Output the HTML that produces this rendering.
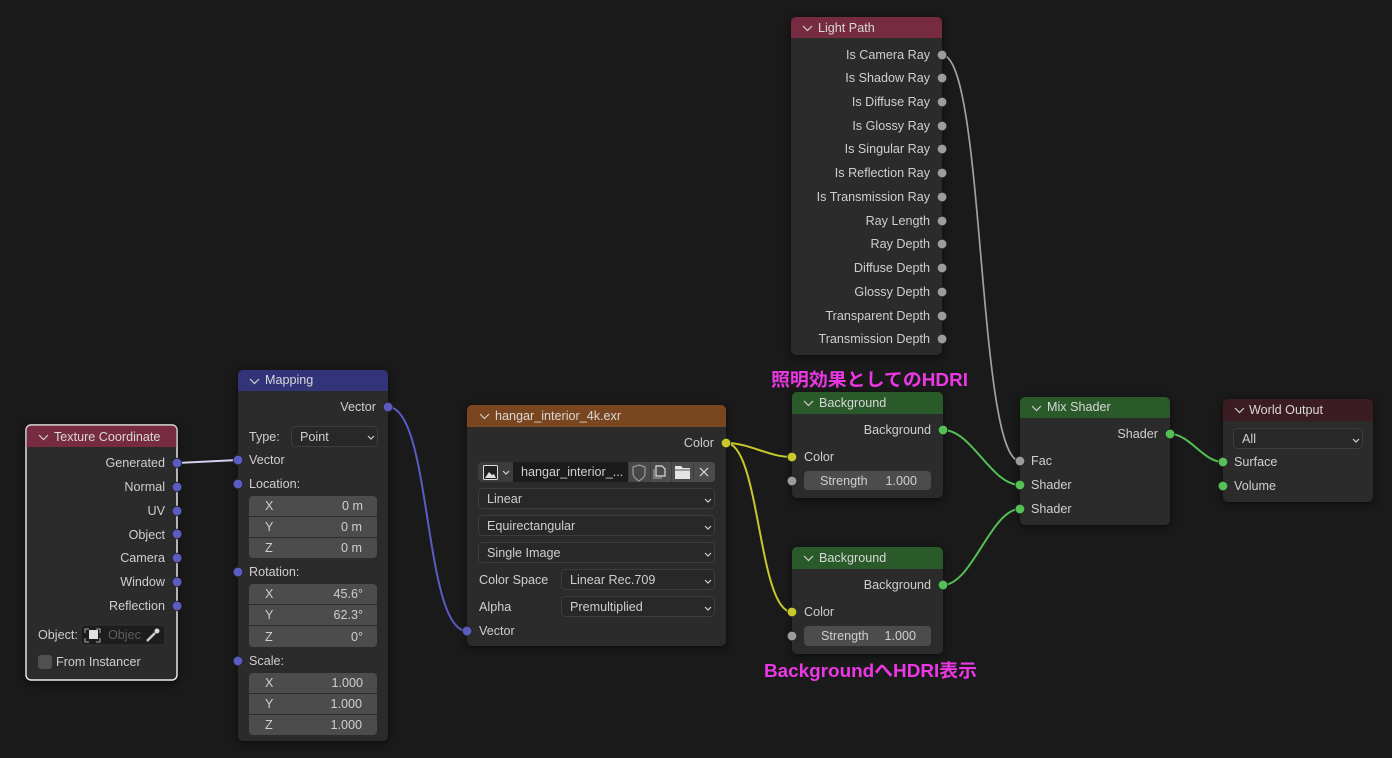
<!DOCTYPE html>
<html lang="ja"><head><meta charset="utf-8"><title>Node graph</title>
<style>
html,body{margin:0;padding:0;background:#1a1a1a;width:1392px;height:758px;overflow:hidden}
svg{display:block}
text{font-family:"Liberation Sans","Noto Sans CJK JP",sans-serif;font-size:12.6px;fill:#cfcfcf}
.e{text-anchor:end}.m{text-anchor:middle}
.h{fill:#d8d8d8}
.n{fill:#2b2b2b;filter:drop-shadow(0 2px 4px rgba(0,0,0,.55))}
.c{fill:none;stroke:#d0d0d0;stroke-width:1.2}
.dd{fill:#282828;stroke:#3d3d3d;stroke-width:1}
.f{fill:#4c4c4c}
.sep{stroke:#2d2d2d;stroke-width:1}
.cv{fill:none;stroke:#d0d0d0;stroke-width:1.2}
.v circle{fill:#5b5bc4}.y circle{fill:#c8c82c}.g circle{fill:#9c9c9c}.s circle{fill:#55c055}
.v circle,.y circle,.g circle,.s circle{stroke:#222;stroke-width:.8}
.l{fill:none;stroke-width:2}
.a{font-weight:700;font-size:18px;fill:#ec38e4}
</style></head><body>
<svg width="1392" height="758" viewBox="0 0 1392 758" xmlns="http://www.w3.org/2000/svg">
<rect width="1392" height="758" fill="#1a1a1a"/>

<!-- Texture Coordinate -->
<rect class="n" x="26" y="425" width="151" height="255" rx="5" stroke="#f0f0f0" stroke-width="1.4"/>
<path d="M26 447V430a5 5 0 0 1 5-5h141a5 5 0 0 1 5 5v17z" fill="#762b41"/>
<path d="M26 447V430a5 5 0 0 1 5-5h141a5 5 0 0 1 5 5v17" fill="none" stroke="#d8d8d8" stroke-width="1.2"/>
<path class="c" d="M39 435l4.500 4.500 4.500-4.500"/>
<text class="h" x="54" y="441">Texture Coordinate</text>
<text class="e" x="165" y="467">Generated</text>
<text class="e" x="165" y="491">Normal</text>
<text class="e" x="165" y="515">UV</text>
<text class="e" x="165" y="539">Object</text>
<text class="e" x="165" y="562">Camera</text>
<text class="e" x="165" y="586">Window</text>
<text class="e" x="165" y="610">Reflection</text>
<text x="38" y="639">Object:</text>
<rect x="81" y="625" width="84" height="20" rx="4" fill="#1d1d1d" stroke="#333"/>
<rect x="89" y="630" width="9" height="9" fill="#e0e0e0"/>
<path d="M85 633v-4h4M96 629h4v4M100 638v4h-4M89 642h-4v-4" fill="none" stroke="#aaa" stroke-width="1"/>
<text x="108" y="639" style="fill:#5e5e5e">Objec</text>
<path d="M147 641l8-8" stroke="#ccc" stroke-width="2.500"/><circle cx="157" cy="631" r="2.500" fill="#ddd"/>
<rect x="38" y="655" width="14" height="14" rx="3" fill="#505050"/>
<text x="56" y="666">From Instancer</text>

<!-- Mapping -->
<rect class="n" x="238" y="370" width="150" height="371" rx="5"/>
<path d="M238 391V375a5 5 0 0 1 5-5h140a5 5 0 0 1 5 5v16z" fill="#33337a"/>
<path class="c" d="M250 379l4.500 4.500 4.500-4.500"/>
<text class="h" x="265" y="384">Mapping</text>
<text class="e" x="376" y="411">Vector</text>
<text x="249" y="441">Type:</text>
<rect class="dd" x="291.500" y="426.500" width="86" height="20" rx="4"/>
<text x="300" y="441">Point</text>
<path class="cv" d="M368 436l3 3 3-3"/>
<text x="249" y="464">Vector</text>
<text x="249" y="488">Location:</text>
<rect class="f" x="249" y="496" width="128" height="62" rx="4"/>
<path class="sep" d="M249 516.500h128M249 537.500h128"/>
<text x="265" y="510">X</text><text class="e" x="363" y="510">0 m</text>
<text x="265" y="531">Y</text><text class="e" x="362" y="531">0 m</text>
<text x="265" y="552">Z</text><text class="e" x="362" y="552">0 m</text>
<text x="249" y="576">Rotation:</text>
<rect class="f" x="249" y="584" width="128" height="63" rx="4"/>
<path class="sep" d="M249 604.500h128M249 625.500h128"/>
<text x="265" y="598">X</text><text class="e" x="363" y="598">45.6°</text>
<text x="265" y="619">Y</text><text class="e" x="363" y="619">62.3°</text>
<text x="265" y="641">Z</text><text class="e" x="363" y="641">0°</text>
<text x="249" y="665">Scale:</text>
<rect class="f" x="249" y="673" width="128" height="62" rx="4"/>
<path class="sep" d="M249 693.500h128M249 714.500h128"/>
<text x="265" y="687">X</text><text class="e" x="363" y="687">1.000</text>
<text x="265" y="708">Y</text><text class="e" x="362" y="708">1.000</text>
<text x="265" y="729">Z</text><text class="e" x="362" y="729">1.000</text>

<!-- Image -->
<rect class="n" x="467" y="405" width="259" height="241" rx="5"/>
<path d="M467 427V410a5 5 0 0 1 5-5h249a5 5 0 0 1 5 5v17z" fill="#79461f"/>
<path class="c" d="M480 414l4.500 4.500 4.500-4.500"/>
<text class="h" x="495" y="420">hangar_interior_4k.exr</text>
<text class="e" x="714" y="447">Color</text>
<rect x="478" y="462" width="237" height="20" rx="4" fill="#3c3c3c"/>
<rect x="513" y="462" width="115" height="20" fill="#1b1b1b"/>
<rect x="629" y="462" width="21" height="20" fill="#484848"/>
<rect x="651" y="462" width="20" height="20" fill="#4c4c4c"/>
<rect x="672" y="462" width="21" height="20" fill="#4c4c4c"/>
<path d="M694 462h17a4 4 0 0 1 4 4v12a4 4 0 0 1-4 4h-17z" fill="#4c4c4c"/>
<rect x="483.500" y="465.500" width="14" height="14" rx="1" fill="#222" stroke="#ddd"/>
<path d="M485 478l4-6 3 3 2-1 2 4z" fill="#ddd"/>
<path class="cv" d="M503 471l3 3 3-3"/>
<text x="521" y="476">hangar_interior_...</text>
<path d="M633 467l6-2 6 2v6c0 4-3 6-6 8-3-2-6-4-6-8z" fill="none" stroke="#9a9a9a" stroke-width="1.200"/>
<path d="M656 466h6l3 3v7h-9z" fill="none" stroke="#ddd" stroke-width="1.200"/><path d="M654 469v9h8" fill="none" stroke="#999" stroke-width="1.200"/>
<path d="M675 466h6l2 2h7v11h-15z" fill="#e4e4e4"/><path d="M675 470h15" stroke="#555"/>
<path d="M700 468l8 8M708 468l-8 8" stroke="#ddd" stroke-width="1.200"/>
<rect class="dd" x="478.500" y="488.500" width="236" height="20" rx="4"/>
<text x="487" y="503">Linear</text><path class="cv" d="M705 499l3 3 3-3"/>
<rect class="dd" x="478.500" y="515.500" width="236" height="20" rx="4"/>
<text x="487" y="530">Equirectangular</text><path class="cv" d="M705 526l3 3 3-3"/>
<rect class="dd" x="478.500" y="542.500" width="236" height="20" rx="4"/>
<text x="487" y="557">Single Image</text><path class="cv" d="M705 553l3 3 3-3"/>
<text x="479" y="584">Color Space</text>
<rect class="dd" x="561.500" y="569.500" width="153" height="20" rx="4"/>
<text x="570" y="584">Linear Rec.709</text><path class="cv" d="M705 580l3 3 3-3"/>
<text x="479" y="611">Alpha</text>
<rect class="dd" x="561.500" y="596.500" width="153" height="20" rx="4"/>
<text x="570" y="611">Premultiplied</text><path class="cv" d="M705 607l3 3 3-3"/>
<text x="479" y="635">Vector</text>

<!-- Light Path -->
<rect class="n" x="791" y="17" width="151" height="338" rx="5"/>
<path d="M791 38V22a5 5 0 0 1 5-5h141a5 5 0 0 1 5 5v16z" fill="#762b41"/>
<path class="c" d="M803 26l4.500 4.500 4.500-4.500"/>
<text class="h" x="818" y="32">Light Path</text>
<text class="e" x="930" y="59">Is Camera Ray</text>
<text class="e" x="930" y="82">Is Shadow Ray</text>
<text class="e" x="930" y="106">Is Diffuse Ray</text>
<text class="e" x="930" y="130">Is Glossy Ray</text>
<text class="e" x="930" y="153">Is Singular Ray</text>
<text class="e" x="930" y="177">Is Reflection Ray</text>
<text class="e" x="930" y="201">Is Transmission Ray</text>
<text class="e" x="930" y="225">Ray Length</text>
<text class="e" x="930" y="248">Ray Depth</text>
<text class="e" x="930" y="272">Diffuse Depth</text>
<text class="e" x="930" y="296">Glossy Depth</text>
<text class="e" x="930" y="320">Transparent Depth</text>
<text class="e" x="930" y="343">Transmission Depth</text>

<!-- Background 1 -->
<rect class="n" x="792" y="392" width="151" height="106" rx="5"/>
<path d="M792 414V397a5 5 0 0 1 5-5h141a5 5 0 0 1 5 5v17z" fill="#2a5a2a"/>
<path class="c" d="M804 401l4.500 4.500 4.500-4.500"/>
<text class="h" x="819" y="407">Background</text>
<text class="e" x="931" y="434">Background</text>
<text x="804" y="461">Color</text>
<rect class="f" x="804" y="471" width="127" height="19" rx="4"/>
<text x="820" y="485">Strength</text><text class="e" x="917" y="485">1.000</text>

<!-- Background 2 -->
<rect class="n" x="792" y="547" width="151" height="107" rx="5"/>
<path d="M792 569V552a5 5 0 0 1 5-5h141a5 5 0 0 1 5 5v17z" fill="#2a5a2a"/>
<path class="c" d="M804 556l4.500 4.500 4.500-4.500"/>
<text class="h" x="819" y="562">Background</text>
<text class="e" x="931" y="589">Background</text>
<text x="804" y="616">Color</text>
<rect class="f" x="804" y="626" width="127" height="20" rx="4"/>
<text x="821" y="640">Strength</text><text class="e" x="916" y="640">1.000</text>

<!-- Mix Shader -->
<rect class="n" x="1020" y="397" width="150" height="128" rx="5"/>
<path d="M1020 418V402a5 5 0 0 1 5-5h140a5 5 0 0 1 5 5v16z" fill="#2a5a2a"/>
<path class="c" d="M1032 406l4.500 4.500 4.500-4.500"/>
<text class="h" x="1047" y="411">Mix Shader</text>
<text class="e" x="1158" y="438">Shader</text>
<text x="1031" y="465">Fac</text>
<text x="1031" y="489">Shader</text>
<text x="1031" y="513">Shader</text>

<!-- World Output -->
<rect class="n" x="1223" y="399" width="150" height="103" rx="5"/>
<path d="M1223 421V404a5 5 0 0 1 5-5h140a5 5 0 0 1 5 5v17z" fill="#3b1c23"/>
<path class="c" d="M1235 408l4.500 4.500 4.500-4.500"/>
<text class="h" x="1249" y="414">World Output</text>
<rect class="dd" x="1233.500" y="428.500" width="129" height="20" rx="4"/>
<text x="1242" y="443">All</text><path class="cv" d="M1353 439l3 3 3-3"/>
<text x="1234" y="466">Surface</text>
<text x="1234" y="490">Volume</text>

<!-- Links -->
<path class="l" d="M177 463L238 460" stroke="#d4d0ee"/>
<path class="l" d="M388 407C432 407 423 631 467 631" stroke="#5b5bc4"/>
<path class="l" d="M726 443C750 443 768 457 792 457" stroke="#c8c82c"/>
<path class="l" d="M726 443C760 443 758 612 792 612" stroke="#c8c82c"/>
<path class="l" d="M943 430C972 430 991 485 1020 485" stroke="#55c055"/>
<path class="l" d="M943 585C972 585 991 509 1020 509" stroke="#55c055"/>
<path class="l" d="M1170 434C1190 434 1203 462 1223 462" stroke="#55c055"/>
<path class="l" d="M942 55C985 55 977 461 1020 461" stroke="#a0a0a0" style="stroke-width:1.700"/>

<!-- Sockets -->
<g class="v">
<circle cx="177" cy="463" r="4.800"/><circle cx="177" cy="487" r="4.800"/><circle cx="177" cy="511" r="4.800"/><circle cx="177" cy="534" r="4.800"/><circle cx="177" cy="558" r="4.800"/><circle cx="177" cy="582" r="4.800"/><circle cx="177" cy="606" r="4.800"/>
<circle cx="388" cy="407" r="4.800"/><circle cx="238" cy="460" r="4.800"/><circle cx="238" cy="484" r="4.800"/><circle cx="238" cy="572" r="4.800"/><circle cx="238" cy="661" r="4.800"/><circle cx="467" cy="631" r="4.800"/>
</g>
<g class="y"><circle cx="726" cy="443" r="4.800"/><circle cx="792" cy="457" r="4.800"/><circle cx="792" cy="612" r="4.800"/></g>
<g class="g">
<circle cx="942" cy="55" r="4.800"/><circle cx="942" cy="78" r="4.800"/><circle cx="942" cy="102" r="4.800"/><circle cx="942" cy="126" r="4.800"/><circle cx="942" cy="149" r="4.800"/><circle cx="942" cy="173" r="4.800"/><circle cx="942" cy="197" r="4.800"/><circle cx="942" cy="221" r="4.800"/><circle cx="942" cy="244" r="4.800"/><circle cx="942" cy="268" r="4.800"/><circle cx="942" cy="292" r="4.800"/><circle cx="942" cy="316" r="4.800"/><circle cx="942" cy="339" r="4.800"/>
<circle cx="792" cy="481" r="4.800"/><circle cx="792" cy="636" r="4.800"/><circle cx="1020" cy="461" r="4.800"/>
</g>
<g class="s">
<circle cx="943" cy="430" r="4.800"/><circle cx="943" cy="585" r="4.800"/><circle cx="1020" cy="485" r="4.800"/><circle cx="1020" cy="509" r="4.800"/><circle cx="1170" cy="434" r="4.800"/><circle cx="1223" cy="462" r="4.800"/><circle cx="1223" cy="486" r="4.800"/>
</g>

<!-- Annotations -->
<text class="a" x="771" y="386" textLength="197" lengthAdjust="spacingAndGlyphs">照明効果としてのHDRI</text>
<text class="a" x="764" y="677" textLength="213" lengthAdjust="spacingAndGlyphs">BackgroundへHDRI表示</text>
</svg>
</body></html>
